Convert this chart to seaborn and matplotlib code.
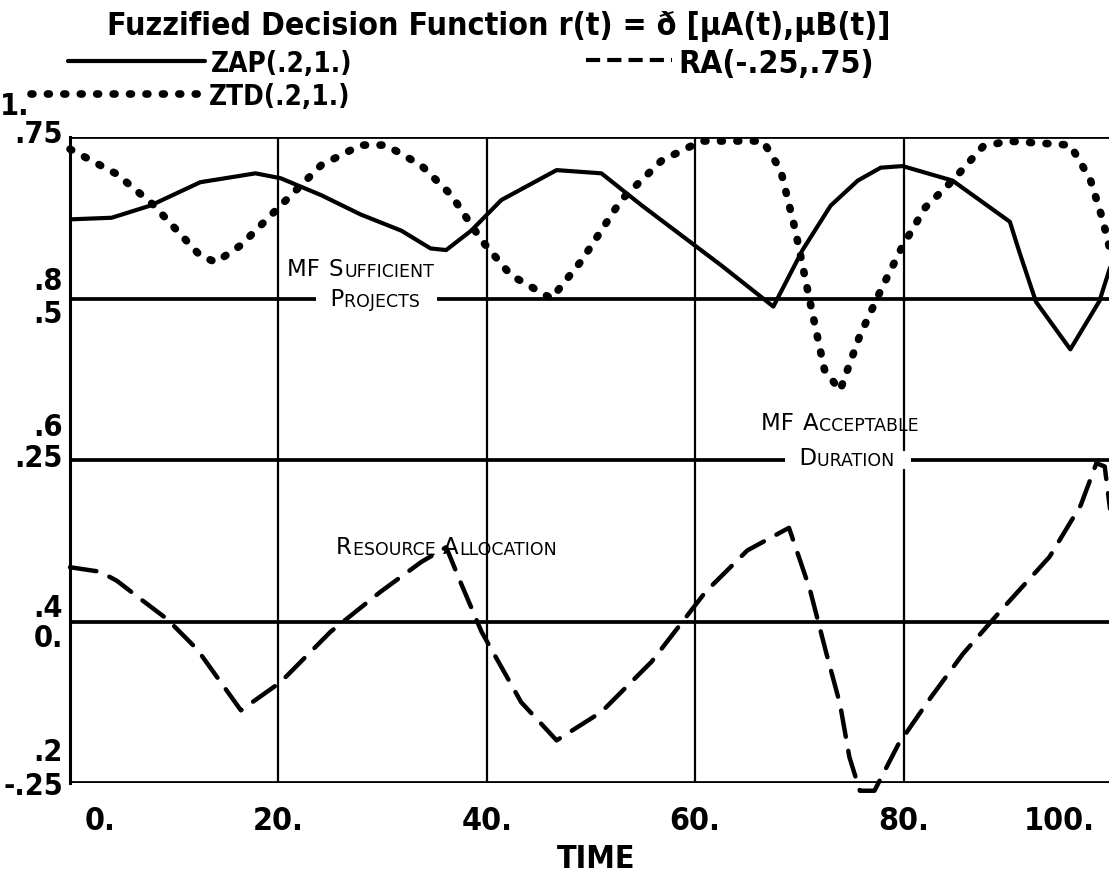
import matplotlib
matplotlib.use("Agg")
import matplotlib.pyplot as plt
import matplotlib.transforms as mtransforms
from matplotlib import font_manager as fm
from matplotlib.lines import Line2D
import pandas as pd
import seaborn as sns

# ---------------- data ----------------
zap_t = [0, 4, 7.7, 12.5, 17.8, 20.2, 24.1, 27.9, 31.8, 34.6, 36.1, 38.5, 41.4, 46.7, 51, 54.9,
         58.7, 62.5, 67.5, 70.3, 73, 75.6, 77.8, 79.9, 84.7, 90.2, 91.1, 92.7, 96, 98.8, 100]
zap_v = [.898, .90, .915, .944, .955, .949, .928, .904, .884, .862, .86, .884, .922, .959, .955,
         .915, .878, .841, .79, .86, .915, .946, .962, .964, .946, .895, .858, .796, .737, .797, .846]

ztd_t = [0, 4.5, 8, 12.5, 14, 16.4, 20.2, 24.1, 27.9, 30.3, 33.7, 36.6, 39.5, 42.3, 46.2, 49.1,
         52.9, 56.8, 60.6, 66.5, 68.2, 69.6, 71.0, 72.4, 73.9, 75.8, 77.8, 79.9, 82.1, 84.7, 87.6,
         90, 96, 96.9, 97.9, 99.1, 100]
ztd_v = [.985, .954, .916, .853, .845, .866, .915, .965, .99, .99, .965, .928, .872, .829, .80, .847,
         .922, .971, .995, .995, .959, .885, .797, .712, .686, .754, .81, .865, .913, .946, .988,
         .995, .99, .97, .948, .898, .85]

ra_t = [0, 2.9, 4.5, 7, 9.3, 12.2, 16.4, 20.2, 25, 29.8, 33.7, 36.1, 37.5, 39.5, 43.3, 46.7, 51,
        55.8, 61, 65, 69, 71, 72.6, 73.9, 74.8, 75.8, 77.2, 79.5, 82.5, 85.7, 89.5, 94, 97,
        98.5, 99.3, 100]
ra_v = [.084, .077, .063, .032, .004, -.043, -.1375, -.094, -.016, .046, .092, .115, .06, -.016,
        -.125, -.184, -.14, -.0625, .046, .11, .145, .05, -.05, -.128, -.21, -.262, -.262, -.19,
        -.12, -.05, .02, .10, .18, .245, .24, .15]

x_ticks = [0, 20, 40, 60, 80, 100]
x_tick_labels = ["0.", "20.", "40.", "60.", "80.", "100."]
ra_ticks = [0.75, 0.5, 0.25, 0.0, -0.25]
ra_tick_labels = [".75", ".5", ".25", "0.", "-.25"]
z_ticks = [1.0, 0.8, 0.6, 0.4, 0.2]
z_tick_labels = ["1.", ".8", ".6", ".4", ".2"]

title_text = "Fuzzified Decision Function r(t) = \u00f0 [\u00b5A(t),\u00b5B(t)]"
zap_label = "ZAP(.2,1.)"
ztd_label = "ZTD(.2,1.)"
ra_label = "RA(-.25,.75)"
xlabel_text = "TIME"
note_projects = (["MF", "SUFFICIENT"], ["PROJECTS"])
note_duration = (["MF", "ACCEPTABLE"], ["DURATION"])
note_resource = ["RESOURCE", "ALLOCATION"]

# ---------------- fonts ----------------
sns.set_theme(style="white")


def pick_narrow_bold():
    best = None
    for f in fm.fontManager.ttflist:
        name = f.name
        st = f.stretch
        narrow = ("Narrow" in name or "Condensed" in name or "Cond" in name
                  or (isinstance(st, str) and "condensed" in st)
                  or (isinstance(st, (int, float)) and st < 500))
        if not narrow:
            continue
        w = f.weight
        wn = w if isinstance(w, (int, float)) else {"bold": 700, "heavy": 800, "black": 900,
                                                    "semibold": 600, "demibold": 600}.get(str(w).lower(), 400)
        score = abs(wn - 700)
        if "Italic" in f.fname or "Oblique" in f.fname or f.style != "normal":
            score += 1000
        if best is None or score < best[0]:
            best = (score, f.fname)
    return best[1] if best else None


narrow_file = pick_narrow_bold()
if narrow_file:
    FP = lambda size: fm.FontProperties(fname=narrow_file, size=size)
    size_scale = 1.0
else:
    FP = lambda size: fm.FontProperties(family=["Liberation Sans", "DejaVu Sans"],
                                        weight="bold", size=size)
    size_scale = 0.86

plt.rcParams['font.family'] = ['Liberation Sans', 'DejaVu Sans']
plt.rcParams['text.color'] = 'black'

W, H = 1109, 878
fig = plt.figure(figsize=(W / 100, H / 100), dpi=100)
fig.patch.set_facecolor("white")

ax = fig.add_axes([70 / W, 94 / H, 1042 / W, 646 / H])
ax2 = ax.twinx()

ax.set_xlim(0, 100)
ax.set_ylim(-0.25, 0.75)
ax2.set_ylim(0.2, 1.0)

for a in (ax, ax2):
    for s in a.spines.values():
        s.set_visible(False)
    a.set_yticks([])
    a.set_xticks([])
    a.set_facecolor("none")
    a.grid(False)

ax.spines['left'].set_visible(True)
ax.spines['left'].set_color("black")
ax.spines['left'].set_linewidth(2.2)

for yv in ra_ticks:
    ax.axhline(yv, color="black", lw=2.7, zorder=1)
for xv in x_ticks[1:-1]:
    ax.axvline(xv, color="black", lw=1.6, zorder=1)

df_ra = pd.DataFrame({"t": ra_t, "v": ra_v})
df_zap = pd.DataFrame({"t": zap_t, "v": zap_v})
df_ztd = pd.DataFrame({"t": ztd_t, "v": ztd_v})

sns.lineplot(data=df_ra, x="t", y="v", ax=ax, color="black", lw=3.2, sort=False, estimator=None)
ra_line = ax.lines[-1]
ra_line.set_linestyle((0, (6, 3.2)))
ra_line.set_dash_capstyle("round")
ra_line.set_clip_on(False)

sns.lineplot(data=df_zap, x="t", y="v", ax=ax2, color="black", lw=3.0, sort=False, estimator=None)
zap_line = ax2.lines[-1]
zap_line.set_solid_joinstyle("round")
sns.lineplot(data=df_ztd, x="t", y="v", ax=ax2, color="black", lw=5.5, sort=False, estimator=None)
ztd_line = ax2.lines[-1]
ztd_line.set_linestyle((0, (0.25, 1.9)))
ztd_line.set_dash_capstyle("round")
ztd_line.set_clip_on(False)

for a in (ax, ax2):
    a.set_xlabel("")
    a.set_ylabel("")
    a.set_xlim(0, 100)

fs = 22 * size_scale
pt = fig.dpi_scale_trans


def off(dx, dy):
    return mtransforms.ScaledTranslation(dx / 100, -dy / 100, pt)


# y labels (RA scale)
ra_dy = [-3, 15, -2, 16, 3]
bt = mtransforms.blended_transform_factory(ax.transAxes, ax.transData)
for v, lab, dy in zip(ra_ticks, ra_tick_labels, ra_dy):
    ax.text(0, v, lab, transform=bt + off(-7, dy), ha="right", va="center",
            fontproperties=FP(fs), color="black")
# y labels (ZAP/ZTD scale)
z_dy = [-31, -18, -33, -14, -31]
bt2 = mtransforms.blended_transform_factory(ax2.transAxes, ax2.transData)
for v, lab, dy in zip(z_ticks, z_tick_labels, z_dy):
    dx = -41 if lab == "1." else -7
    ax2.text(0, v, lab, transform=bt2 + off(dx, dy), ha="right", va="center",
             fontproperties=FP(fs), color="black")

# x labels
btx = mtransforms.blended_transform_factory(ax.transData, ax.transAxes)
for xv, lab in zip(x_ticks, x_tick_labels):
    ha = "center"
    dx = 0
    if lab == "0.":
        ha, dx = "left", 15
    if lab == "100.":
        ha, dx = "right", -17
    ax.text(xv, 0, lab, transform=btx + off(dx, 38), ha=ha, va="center",
            fontproperties=FP(fs + 1), color="black")
ax.text(50.5, 0, xlabel_text, transform=btx + off(0, 76), ha="center", va="center",
        fontproperties=FP(fs + 1), color="black")

# title
fig.text(499 / W, 1 - 27 / H, title_text, ha="center", va="center",
         fontproperties=FP(fs + 1), color="black")

# legends (one entry each, so each key keeps its own length)
common = dict(frameon=False, labelspacing=0.0, borderpad=0, borderaxespad=0,
              handletextpad=0.2, loc="center left", labelcolor="black")
leg_zap = fig.legend([zap_line], [zap_label], bbox_to_anchor=(68 / W, 1 - 64 / H),
                     prop=FP(fs - 2), handlelength=137 / ((fs - 2) * 100 / 72), **common)
leg_ztd = fig.legend([ztd_line], [ztd_label], bbox_to_anchor=(31 / W, 1 - 97 / H),
                     prop=FP(fs - 2), handlelength=172 / ((fs - 2) * 100 / 72), **common)
ra_key = Line2D([], [], color="black", lw=3.0, linestyle=(0, (3.4, 1.7)))
leg_ra = fig.legend([ra_key], [ra_label], bbox_to_anchor=(586 / W, 1 - 64 / H),
                    prop=FP(fs + 1), handlelength=86 / ((fs + 1) * 100 / 72), **common)


# annotations in small-caps style (larger initials), built from chained text pieces
def small_caps(x, y, words, big=16.5, small=12.5, bg=False):
    pieces = []
    for i, w in enumerate(words):
        sep = " " if i < len(words) - 1 else ""
        if len(w) <= 2:
            pieces.append([w + sep, big])
        else:
            pieces.append([w[0], big])
            pieces.append([w[1:] + sep, small])
    if bg:
        pieces[0][0] = "  " + pieces[0][0]
        pieces[-1][0] = pieces[-1][0] + "   "
    gap = 0.0 if bg else 1.0
    prev = None
    for txt, size in pieces:
        kw = dict(fontsize=size, family="DejaVu Sans", color="black", ha="left", va="bottom")
        if bg:
            kw["bbox"] = dict(facecolor="white", edgecolor="none", pad=0)
        if prev is None:
            prev = ax.text(x, y, txt, **kw)
        else:
            prev = ax.annotate(txt, xy=(1, 0), xycoords=prev, xytext=(gap, 0),
                               textcoords="offset points", **kw)
    return prev


small_caps(20.8, 0.528, note_projects[0])
small_caps(23.6, 0.482, note_projects[1], bg=True)
small_caps(66.3, 0.291, note_duration[0])
small_caps(68.6, 0.236, note_duration[1], bg=True)
small_caps(25.5, 0.098, note_resource)

fig.savefig("out.png", dpi=100, facecolor="white")
